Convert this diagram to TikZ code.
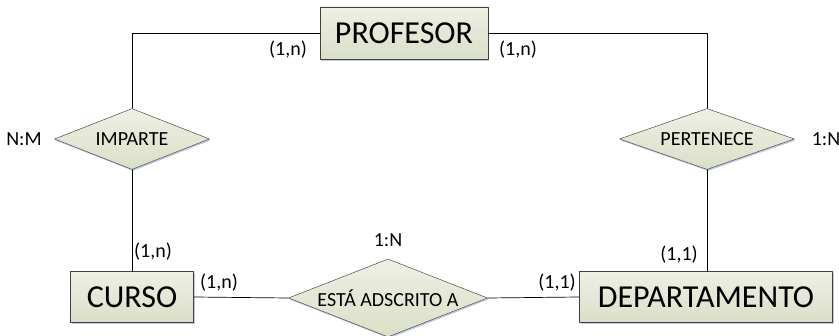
\documentclass[tikz,border=0pt]{standalone}
\usepackage{fontspec}
\setmainfont{Carlito}
\usetikzlibrary{shapes.geometric,shadows}
\begin{document}
\begin{tikzpicture}[x=1pt,y=-1pt, line join=round, line cap=round,
  entidad/.style={draw=black!75, line width=0.6pt, inner sep=0pt, minimum height=52pt,
    top color={rgb,255:red,238;green,240;blue,228}, bottom color={rgb,255:red,218;green,223;blue,200},
    drop shadow={shadow xshift=1.2pt, shadow yshift=-1.8pt, fill={rgb,255:red,130;green,150;blue,190}, opacity=0.5},
    font=\fontsize{32}{32}\selectfont},
  relacion/.style={diamond, draw=black!70, line width=0.5pt, inner sep=0pt, aspect=2.5,
    top color={rgb,255:red,238;green,240;blue,228}, bottom color={rgb,255:red,218;green,223;blue,200},
    drop shadow={shadow xshift=1pt, shadow yshift=-1.5pt, fill={rgb,255:red,130;green,150;blue,190}, opacity=0.5},
    font=\fontsize{20}{20}\selectfont},
  card/.style={font=\fontsize{20}{20}\selectfont, inner sep=0pt}]
  \useasboundingbox (0,0) rectangle (839,336);
  % entidades
  \node[entidad, minimum width=168pt] (prof) at (404,33) {PROFESOR};
  \node[entidad, minimum width=123pt, minimum height=51pt] (curso) at (132,297) {CURSO};
  \node[entidad, minimum width=253pt, minimum height=51pt] (dep) at (706,297) {DEPARTAMENTO};
  % relaciones
  \node[relacion, minimum width=155pt, minimum height=61pt] (imp) at (132,139) {IMPARTE};
  \node[relacion, minimum width=175pt, minimum height=61pt] (pert) at (707,139) {PERTENECE};
  \node[relacion, minimum width=199pt, minimum height=78pt] (ads) at (388,298) {ESTÁ ADSCRITO A};
  % lineas
  \draw[line width=0.7pt] (prof.west) -| (imp.north);
  \draw[line width=0.7pt] (prof.east) -| (pert.north);
  \draw[line width=0.7pt] (imp.south) -- (curso.north);
  \draw[line width=0.7pt] (pert.south) -- (pert.south |- dep.north);
  \draw[line width=0.7pt] (curso.east) -- (ads.west);
  \draw[line width=0.7pt] (ads.east) -- (dep.west);
  % cardinalidades
  \node[card] (c1) at (288,50) {(1,n)};
  \node[card] (c2) at (518,50) {(1,n)};
  \node[card] (c3) at (153,252) {(1,n)};
  \node[card] (c4) at (219,283) {(1,n)};
  \node[card] (c5) at (679,255) {(1,1)};
  \node[card] (c6) at (557,283) {(1,1)};
  \node[card] (t1) at (24,139) {N:M};
  \node[card] (t2) at (826,139) {1:N};
  \node[card] (t3) at (388,240) {1:N};
\end{tikzpicture}
\end{document}
